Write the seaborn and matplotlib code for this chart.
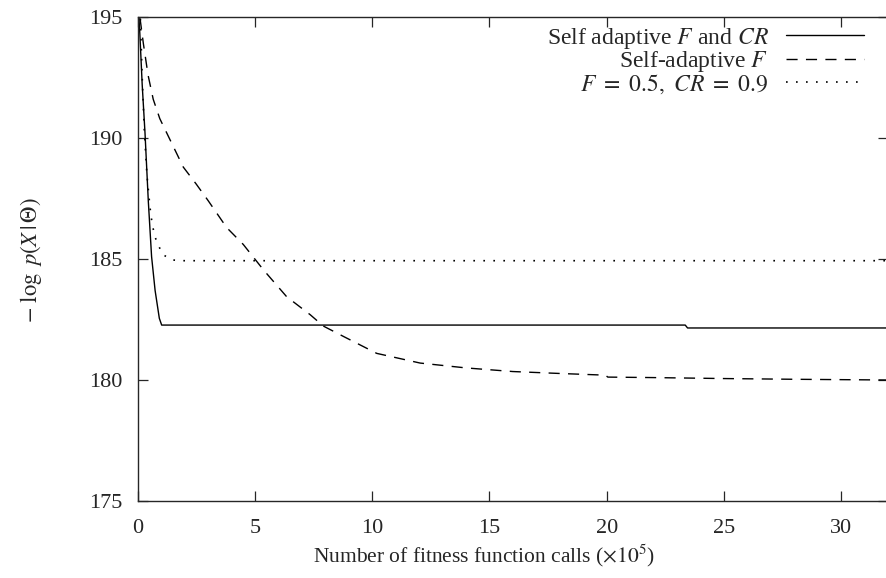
import numpy as np
import pandas as pd
import matplotlib
matplotlib.use("Agg")
import matplotlib.pyplot as plt
import seaborn as sns

# curve 1: self adaptive F and CR
x_both = [0, 0.1, 0.2, 0.32, 0.46, 0.60, 0.75, 0.93, 1.03, 5, 10, 15, 20, 23.35, 23.45, 32]
y_both = [196, 194.3, 192.2, 190.2, 187.4, 185.1, 183.7, 182.55, 182.27, 182.27, 182.27,
          182.27, 182.27, 182.27, 182.15, 182.15]

# curve 2: self-adaptive F
x_f = [0, 0.1, 0.25, 0.45, 0.67, 0.95, 1.25, 1.6, 1.95, 2.5, 3.02, 3.8, 4.51, 5.37,
       6.36, 7.36, 7.92, 8.78, 10.2, 12.05, 14, 16, 18, 19.95, 20.05, 22, 25, 28, 32]
y_f = [195.8, 195, 193.9, 192.6, 191.6, 190.8, 190.2, 189.5, 188.8, 188.1, 187.4, 186.3,
       185.6, 184.55, 183.44, 182.7, 182.23, 181.8, 181.1, 180.7, 180.5, 180.35, 180.27,
       180.2, 180.12, 180.1, 180.06, 180.03, 180.0]

# curve 3: fixed F = 0.5, CR = 0.9
x_fix = [0, 0.12, 0.2, 0.29, 0.4, 0.53, 0.58, 0.65, 0.75, 0.92, 1.1, 1.48, 1.9, 32]
y_fix = [196, 195, 192.5, 190.3, 188.5, 187.16, 186.75, 186.33, 185.9, 185.5, 185.17,
         184.96, 184.93, 184.93]

labels = [r"Self adaptive $F$ and $CR$", r"Self-adaptive $F$", r"$F\ =\ 0.5,\ CR\ =\ 0.9$"]
xticks = [0, 5, 10, 15, 20, 25, 30]
yticks = [175, 180, 185, 190, 195]

sns.set_style("ticks")
plt.rcParams['font.family'] = ['Liberation Serif', 'DejaVu Serif']
plt.rcParams['mathtext.fontset'] = 'stix'
plt.rcParams['font.size'] = 16

fig = plt.figure(figsize=(8.86, 5.78), dpi=100)
ax = fig.add_axes([0.1552, 0.1332, 0.8472, 0.8374])

sns.lineplot(x=x_both, y=y_both, ax=ax, color='black', lw=1.0, label=labels[0],
             estimator=None, sort=False)
sns.lineplot(x=x_f, y=y_f, ax=ax, color='black', lw=1.0, label=labels[1],
             estimator=None, sort=False)
sns.lineplot(x=x_fix, y=y_fix, ax=ax, color='black', lw=1.2, label=labels[2],
             estimator=None, sort=False)
ax.lines[1].set_dashes((8, 6))
ax.lines[2].set_linestyle((0, (1, 5)))

ax.set_xlim(0, 32)
ax.set_ylim(175, 195)
ax.set_xticks(xticks)
ax.set_yticks(yticks)
ax.tick_params(direction='in', length=7.5, width=0.9, top=True, right=True,
               labelsize=16)
ax.tick_params(axis='y', pad=11)
ax.tick_params(axis='x', pad=13)
for s in ax.spines.values():
    s.set_linewidth(1.0)

ax.set_xlabel(r"Number of fitness function calls ($\times 10^5$)", fontsize=15.5)
ax.xaxis.set_label_coords(0.461, -0.086)
ax.set_ylabel(r"$-\ \log\ p(X\,|\,\Theta)$", fontsize=16.3)
ax.yaxis.set_label_coords(-0.124, 0.497)

ax.legend(loc='upper right', bbox_to_anchor=(0.968, 0.982), frameon=False,
          markerfirst=False, handlelength=3.3, handletextpad=0.75,
          labelspacing=-0.07, borderaxespad=0, borderpad=0, fontsize=17)

fig.savefig("out.png", dpi=100)
